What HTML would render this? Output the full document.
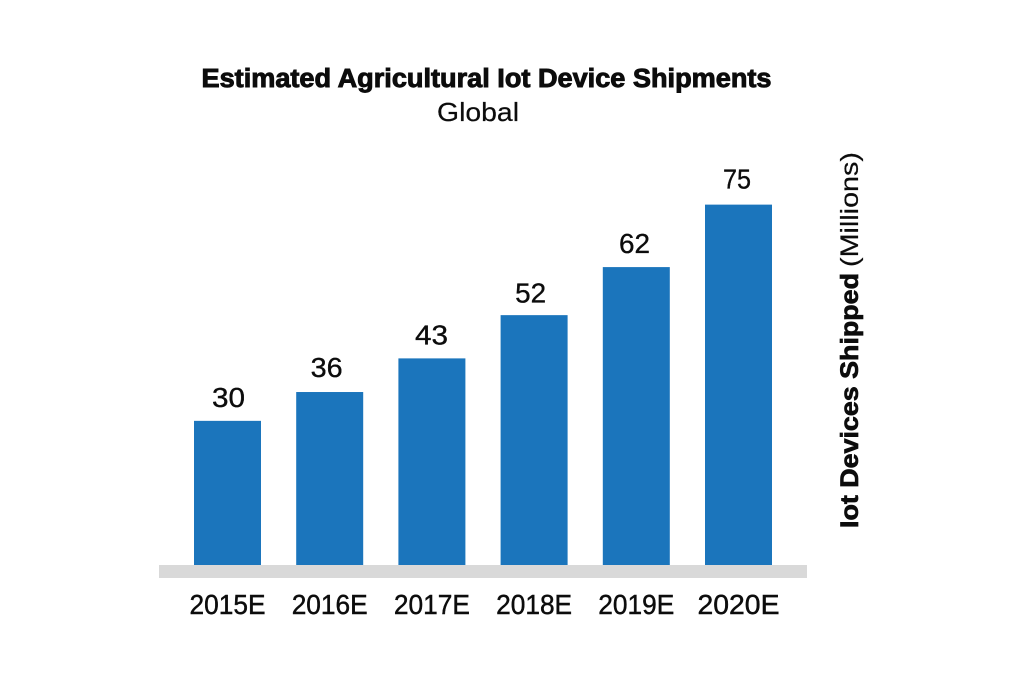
<!DOCTYPE html>
<html lang="en">
<head>
<meta charset="utf-8">
<title>Estimated Agricultural Iot Device Shipments</title>
<style>
html,body{margin:0;padding:0;background:#fff;width:1024px;height:684px;overflow:hidden}
svg{display:block}
text{font-family:"Liberation Sans",sans-serif;fill:#0c0c0c}
</style>
</head>
<body>
<svg id="chart" width="1024" height="684" viewBox="0 0 1024 684">
  <text x="486.5" y="87" text-anchor="middle" font-size="25.5" font-weight="700" stroke="#0c0c0c" stroke-width="0.9" textLength="570" lengthAdjust="spacingAndGlyphs">Estimated Agricultural Iot Device Shipments</text>
  <text x="478" y="121" text-anchor="middle" font-size="26" stroke="#0c0c0c" stroke-width="0.2" textLength="82" lengthAdjust="spacingAndGlyphs">Global</text>
  <rect x="159" y="565" width="648" height="13" fill="#d9d9d9"></rect>
  <text transform="translate(858,528) rotate(-90)" font-size="25" font-weight="700" stroke="#0c0c0c" stroke-width="0.7" textLength="255" lengthAdjust="spacingAndGlyphs">Iot Devices Shipped</text>
  <text transform="translate(858,267) rotate(-90)" font-size="25" stroke="#0c0c0c" stroke-width="0.2" textLength="115" lengthAdjust="spacingAndGlyphs">(Millions)</text>
</svg>
<script>
const categories = ['2015E', '2016E', '2017E', '2018E', '2019E', '2020E'];
const shipments = [30, 36, 43, 52, 62, 75];

const NS = 'http://www.w3.org/2000/svg';
const svg = document.getElementById('chart');
const baseY = 565;
const unitPx = 4.805;
const firstCenter = 227.5;
const step = 102.2;
const barWidth = 67;
const labelNudgeX = [1, -3, -0.4, -3.4, -1.8, -1.5];
const labelGapY = [14, 15, 14, 12.7, 14, 16];
const labelWidth = [33, 32, 33, 31, 31, 28];

function xScale(i) { return firstCenter + i * step; }
function yScale(v) { return baseY - v * unitPx; }

categories.forEach(function (cat, i) {
  const v = shipments[i];
  const cx = xScale(i);

  const bar = document.createElementNS(NS, 'rect');
  
  
  bar.setAttribute('x', cx - barWidth / 2);
  bar.setAttribute('y', yScale(v));
  bar.setAttribute('width', barWidth);
  bar.setAttribute('height', baseY - yScale(v));
  bar.setAttribute('fill', '#1b75bc');
  svg.appendChild(bar);

  const label = document.createElementNS(NS, 'text');
  
  
  label.setAttribute('x', cx + labelNudgeX[i]);
  label.setAttribute('y', yScale(v) - labelGapY[i]);
  label.setAttribute('text-anchor', 'middle');
  label.setAttribute('font-size', '27.5');
  label.setAttribute('stroke', '#0c0c0c');
  label.setAttribute('stroke-width', '0.35');
  label.setAttribute('textLength', labelWidth[i]);
  label.setAttribute('lengthAdjust', 'spacingAndGlyphs');
  label.textContent = String(v);
  svg.appendChild(label);

  const tick = document.createElementNS(NS, 'text');
  
  
  tick.setAttribute('x', cx);
  tick.setAttribute('y', 614);
  tick.setAttribute('text-anchor', 'middle');
  tick.setAttribute('font-size', '27.5');
  tick.setAttribute('stroke', '#0c0c0c');
  tick.setAttribute('stroke-width', '0.45');
  tick.setAttribute('textLength', i === 5 ? '82' : '76');
  tick.setAttribute('lengthAdjust', 'spacingAndGlyphs');
  tick.textContent = cat;
  svg.appendChild(tick);
});
</script>
</body>
</html>
